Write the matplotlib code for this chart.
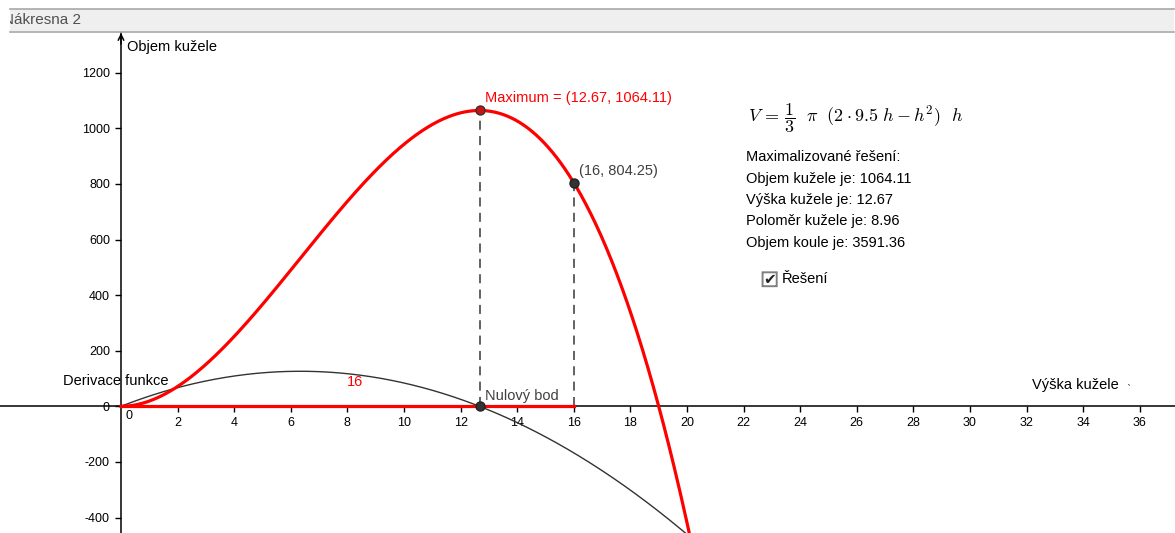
import numpy as np
import matplotlib
matplotlib.use("Agg")
import matplotlib.pyplot as plt
from matplotlib.patches import Rectangle, FancyBboxPatch

plt.rcParams['font.family'] = ['Liberation Sans', 'DejaVu Sans']
plt.rcParams['mathtext.fontset'] = 'cm'
plt.rcParams['axes.unicode_minus'] = False

# --- cone inscribed in a sphere, radius R ---
R = 9.5
h_max, v_max = 12.67, 1064.11          # maximum of V(h)
h_slider, v_slider = 16, 804.25        # slider point
h_zero = 12.67                         # zero of the derivative

x_ticks = list(range(2, 38, 2))
y_ticks = [-400, -200, 0, 200, 400, 600, 800, 1000, 1200]

info_lines = [
    "Maximalizované řešení:",
    "Objem kužele je: 1064.11",
    "Výška kužele je: 12.67",
    "Poloměr kužele je: 8.96",
    "Objem koule je: 3591.36",
]


def volume(h):
    return np.pi / 3 * (2 * R * h - h ** 2) * h


def d_volume(h):
    return np.pi / 3 * (4 * R * h - 3 * h ** 2)


W, H = 1175, 533
fig = plt.figure(figsize=(W / 100, H / 100), dpi=100)

# window header
fig.patches.append(Rectangle((10 / W, (H - 31) / H), (W - 11) / W, 22 / H,
                             transform=fig.transFigure, facecolor='#efefef',
                             edgecolor='none'))
for yy in (8.5, 31.5):
    fig.add_artist(plt.Line2D([10 / W, (W - 1) / W], [(H - yy) / H] * 2,
                              transform=fig.transFigure, color='#a8a8a8', lw=1.2))
hdr = fig.text(3 / W, (H - 20) / H, "Nákresna 2", fontsize=11, color='#505050',
               va='center', ha='left')
clip = Rectangle((10 / W, 0), 1, 1, transform=fig.transFigure, visible=False)
fig.patches.append(clip)
hdr.set_clip_path(clip)

ax = fig.add_axes([0, 0, 1, (H - 33) / H])
px_x, x0 = 28.3, 121.0
px_y, y0 = 0.278, 406.3
ax.set_xlim(-x0 / px_x, (W - x0) / px_x)
ax.set_ylim(-(H - y0) / px_y, (y0 - 33) / px_y)

for s in ('top', 'right'):
    ax.spines[s].set_visible(False)
ax.spines['left'].set_position(('data', 0))
ax.spines['bottom'].set_position(('data', 0))
ax.spines['left'].set_linewidth(1.1)
ax.spines['bottom'].set_linewidth(1.1)
ax.set_xticks(x_ticks)
ax.set_yticks(y_ticks)
ax.tick_params(axis='both', direction='out', length=4, width=1, labelsize=9,
               pad=4)
ax.tick_params(axis='x', pad=4)
ax.text(0.3, -12, "0", fontsize=9, ha='center', va='top')
ymax = ax.get_ylim()[1]
ax.annotate('', xy=(0, ymax), xytext=(0, ymax - 40),
            arrowprops=dict(arrowstyle='->', lw=1.1, color='black',
                            shrinkA=0, shrinkB=0))

# curves
h = np.linspace(0, 22, 600)
ax.plot(h, d_volume(h), color='#333333', lw=1.0, zorder=3)
ax.plot(h, volume(h), color='#ff0000', lw=2.3, zorder=4)
ax.plot([0, h_slider], [0, 0], color='#ff0000', lw=2.3, zorder=4)

# dashed helpers
ax.plot([h_max, h_max], [0, v_max], color='#555555', lw=1.3,
        ls=(0, (5, 3.5)), zorder=2)
ax.plot([h_slider, h_slider], [0, v_slider], color='#555555', lw=1.3,
        ls=(0, (5, 3.5)), zorder=2)

# points
ax.plot(h_max, v_max, 'o', ms=6.5, mfc='#cc1111', mec='#333333', mew=1, zorder=6)
ax.plot(h_slider, v_slider, 'o', ms=6.5, mfc='#333333', mec='#222222', zorder=6)
ax.plot(h_zero, 0, 'o', ms=6.5, mfc='#333333', mec='#222222', zorder=6)

# labels
ax.text(12.86, 1109, f"Maximum = ({h_max}, {v_max})", color='#ff0000',
        fontsize=10.5, va='center')
ax.text(16.18, 846, f"({h_slider}, {v_slider})", color='#404040',
        fontsize=10.5, va='center')
ax.text(12.86, 37, "Nulový bod", color='#404040', fontsize=10.5, va='center')
ax.text(8.27, 88, f"{h_slider}", color='#ff0000', fontsize=10.5, va='center',
        ha='center')
ax.text(-2.05, 91, "Derivace funkce", fontsize=10.5, va='center')
ax.text(32.2, 77, "Výška kužele", fontsize=10.5, va='center')
ax.text(35.5, 55, "ˋ", fontsize=9, va='center', color='#555555')
ax.text(0.21, 1293, "Objem kužele", fontsize=10.5, va='center')

ax.text(22.15, 1037,
        r"$V\,=\,\dfrac{1}{3}\ \ \pi\ \ (2 \cdot 9.5\ h - h^{2})\ \ h$",
        fontsize=13, va='center')
for i, line in enumerate(info_lines):
    ax.text(22.1, 896 - i * 77, line, fontsize=10.5, va='center')

# checkbox
cb_x, cb_y = 22.92, 457
ax.add_patch(FancyBboxPatch((cb_x - 0.25, cb_y - 25), 0.5, 50,
                            boxstyle='round,pad=0,rounding_size=0.08',
                            facecolor='white', edgecolor='#808080', lw=1.4,
                            zorder=5))
ax.text(cb_x, cb_y, "✔", fontsize=11, ha='center', va='center',
        color='#222222', family='DejaVu Sans', zorder=6)
ax.text(23.36, cb_y, "Řešení", fontsize=10.5, va='center')

fig.savefig("out.png", dpi=100)
